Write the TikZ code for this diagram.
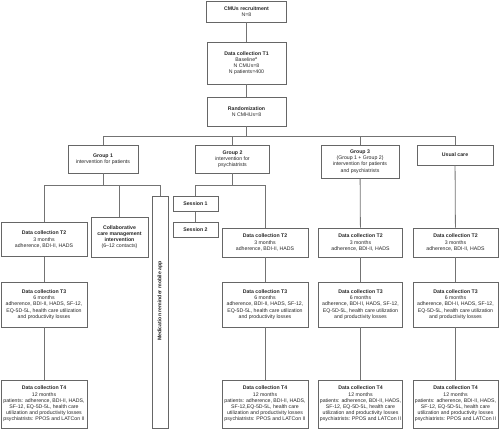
\documentclass[tikz,border=0pt]{standalone}
\usepackage{fontspec}
\setmainfont{Liberation Sans}
\usepackage{tikz}
\tikzstyle{box}=[draw=black!60, line width=0.8pt, align=center, inner sep=1pt, text=black!85, font=\fontsize{5.2}{6.2}\selectfont]
\tikzstyle{line}=[draw=black!55, line width=0.8pt]

\begin{document}
\begin{tikzpicture}[x=1pt, y=-1pt]
		   \useasboundingbox (0,0) rectangle (500,429);
		   \begin{scope}
			   \node (recruit) at (246.5, 11.5)[box, minimum width=80pt, minimum height=21pt] {\textbf{CMUs recruitment}\\N=8};
			   \node (t1) at (246.5, 63)[box, minimum width=79pt, minimum height=42pt] {\textbf{Data collection T1}\\Baseline\textsuperscript{a}\\N CMUs=8\\N patients=400};
			   \node (rand) at (246.5, 111.5)[box, minimum width=79pt, minimum height=29pt] {\textbf{Randomization}\\N CMHUs=8};
			   \node (g1) at (103, 159)[box, minimum width=70pt, minimum height=28pt] {\textbf{Group 1}\\intervention for patients};
			   \node (g2) at (232.5, 159)[box, minimum width=74pt, minimum height=28pt] {\textbf{Group 2}\\intervention for\\psychiatrists};
			   \node (g3) at (360, 161.5)[box, minimum width=78pt, minimum height=33pt] {\textbf{Group 3}\\(Group 1 + Group 2)\\intervention for patients\\and psychiatrists};
			   \node (usual) at (455, 155)[box, minimum width=76pt, minimum height=20pt] {\textbf{Usual care}};
			   \node (s1) at (195.5, 204)[box, minimum width=45pt, minimum height=15pt] {\textbf{Session 1}};
			   \node (s2) at (195.5, 230)[box, minimum width=45pt, minimum height=15pt] {\textbf{Session 2}};
			   \node (collab) at (119.5, 237)[box, minimum width=57pt, minimum height=40pt] {\textbf{Collaborative}\\\textbf{care management}\\\textbf{intervention}\\(6--12 contacts)};
			   \node (app) at (160, 312)[box, rotate=90, minimum width=232pt, minimum height=16pt] {\hspace*{22pt}\textbf{Medication reminder mobile app}};
		   \end{scope}
		   \begin{scope}
			   % data collection, one column per arm
			   \node (t2a) at (44, 239.5)[box, minimum width=86pt, minimum height=34pt] {\textbf{Data collection T2}\\3 months\\adherence, BDI-II, HADS};
			   \node (t2b) at (265, 242.5)[box, minimum width=86pt, minimum height=29pt] {\textbf{Data collection T2}\\3 months\\adherence, BDI-II, HADS};
			   \node (t2c) at (360.5, 242.5)[box, minimum width=84pt, minimum height=29pt] {\textbf{Data collection T2}\\3 months\\adherence, BDI-II, HADS};
			   \node (t2d) at (455.5, 242.5)[box, minimum width=85pt, minimum height=29pt] {\textbf{Data collection T2}\\3 months\\adherence, BDI-II, HADS};
			   \node (t3a) at (44, 304.5)[box, minimum width=86pt, minimum height=45pt] {\textbf{Data collection T3}\\6 months\\adherence, BDI-II, HADS, SF-12,\\EQ-5D-5L, health care utilization\\and productivity losses};
			   \node (t3b) at (265, 304.5)[box, minimum width=86pt, minimum height=45pt] {\textbf{Data collection T3}\\6 months\\adherence, BDI-II, HADS, SF-12,\\EQ-5D-5L, health care utilization\\and productivity losses};
			   \node (t3c) at (360.5, 304.5)[box, minimum width=84pt, minimum height=45pt] {\textbf{Data collection T3}\\6 months\\adherence, BDI-II, HADS, SF-12,\\EQ-5D-5L, health care utilization\\and productivity losses};
			   \node (t3d) at (455.5, 304.5)[box, minimum width=85pt, minimum height=45pt] {\textbf{Data collection T3}\\6 months\\adherence, BDI-II, HADS, SF-12,\\EQ-5D-5L, health care utilization\\and productivity losses};
			   \node (t4a) at (44, 404)[box, minimum width=86pt, minimum height=48pt] {\textbf{Data collection T4}\\12 months\\patients: adherence, BDI-II, HADS,\\SF-12, EQ-5D-5L, health care\\utilization and productivity losses\\psychiatrists: PPOS and LATCon II};
			   \node (t4b) at (265, 404)[box, minimum width=86pt, minimum height=48pt] {\textbf{Data collection T4}\\12 months\\patients: adherence, BDI-II, HADS,\\SF-12,EQ-5D-5L, health care\\utilization and productivity losses\\psychiatrists: PPOS and LATCon II};
			   \node (t4c) at (360.5, 404)[box, minimum width=84pt, minimum height=48pt] {\textbf{Data collection T4}\\12 months\\patients: adherence, BDI-II, HADS,\\SF-12, EQ-5D-5L, health care\\utilization and productivity losses\\psychiatrists: PPOS and LATCon II};
			   \node (t4d) at (455.5, 404)[box, minimum width=85pt, minimum height=48pt] {\textbf{Data collection T4}\\12 months\\patients: adherence, BDI-II, HADS,\\SF-12, EQ-5D-5L, health care\\utilization and productivity losses\\psychiatrists: PPOS and LATCon II};
		   \end{scope}
		   \begin{scope}
			   \coordinate (bus) at (246.5, 136);
			   \coordinate (g1fork) at (103, 185);
			   \coordinate (g2fork) at (232.5, 185);
			   \path [line] (recruit) edge (t1);
			   \path [line] (t1) edge (rand);
			   \draw [line] (rand.south) -- (bus);
			   \draw [line] (g1.north) |- (bus);
			   \draw [line] (g2.north) |- (bus);
			   \draw [line] (g3.north) |- (bus);
			   \draw [line] (usual.north) |- (bus);
			   \draw [line] (g1.south) -- (g1fork);
			   \draw [line] (t2a.north) |- (g1fork);
			   \draw [line] (collab.north) |- (g1fork);
			   \draw [line] (app.east) |- (g1fork);
			   \draw [line] (g2.south) -- (g2fork);
			   \draw [line] (s1.north) |- (g2fork);
			   \draw [line] (t2b.north) |- (g2fork);
			   \path [line] (s1) edge (s2);
			   \path [line] (g3) edge (t2c);
			   \path [line] (usual) edge (t2d);
			   \path [line] (t2a) edge (t3a);
			   \path [line] (t3a) edge (t4a);
			   \path [line] (t2b) edge (t3b);
			   \path [line] (t3b) edge (t4b);
			   \path [line] (t2c) edge (t3c);
			   \path [line] (t3c) edge (t4c);
			   \path [line] (t2d) edge (t3d);
			   \path [line] (t3d) edge (t4d);
		   \end{scope}
	   \end{tikzpicture}
\end{document}
